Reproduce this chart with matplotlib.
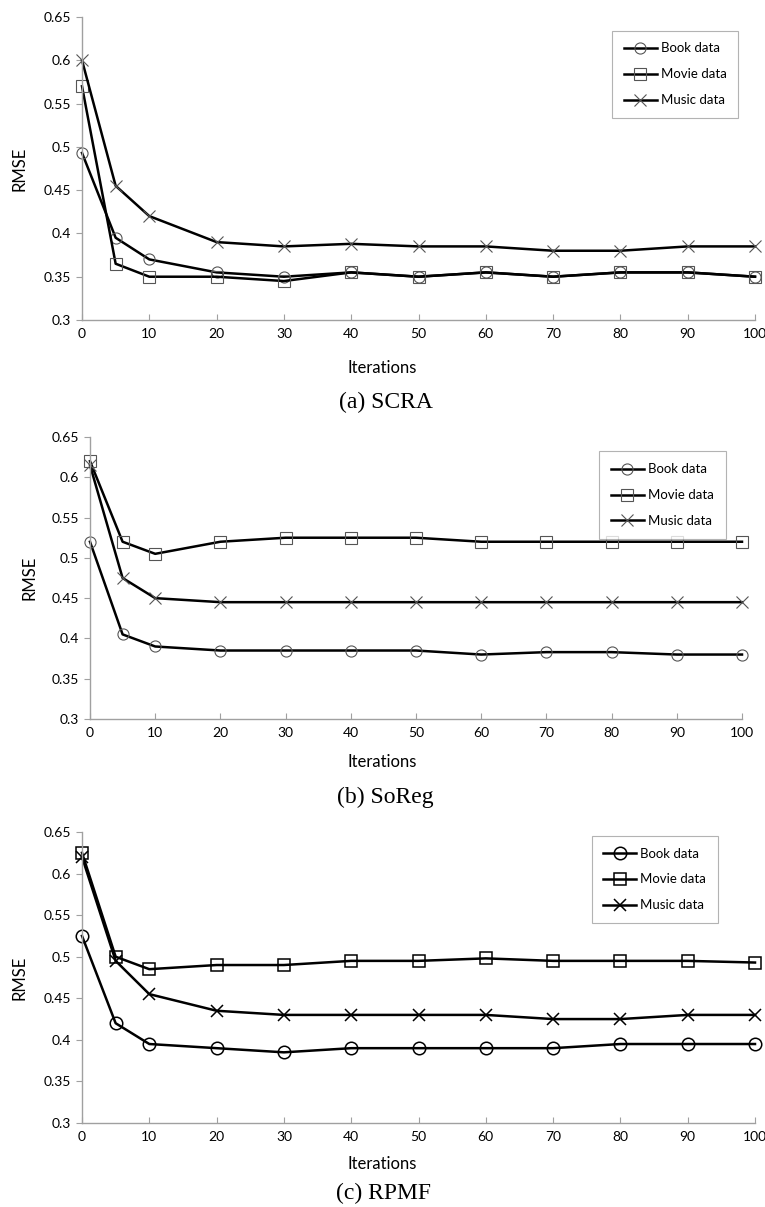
import numpy as np
import matplotlib
matplotlib.use('Agg')
import matplotlib.pyplot as plt

plt.rcParams['font.family'] = ['Lato', 'DejaVu Sans']

iters = [0, 5, 10, 20, 30, 40, 50, 60, 70, 80, 90, 100]
xticks = [0, 10, 20, 30, 40, 50, 60, 70, 80, 90, 100]
yticks = [0.3, 0.35, 0.4, 0.45, 0.5, 0.55, 0.6, 0.65]
ytick_labels = ['0.3', '0.35', '0.4', '0.45', '0.5', '0.55', '0.6', '0.65']
series_names = ['Book data', 'Movie data', 'Music data']

# (a) SCRA
scra_book = [0.493, 0.395, 0.370, 0.355, 0.350, 0.355, 0.350, 0.355, 0.350, 0.355, 0.355, 0.350]
scra_movie = [0.570, 0.365, 0.350, 0.350, 0.345, 0.355, 0.350, 0.355, 0.350, 0.355, 0.355, 0.350]
scra_music = [0.600, 0.455, 0.420, 0.390, 0.385, 0.388, 0.385, 0.385, 0.380, 0.380, 0.385, 0.385]

# (b) SoReg
soreg_book = [0.520, 0.405, 0.390, 0.385, 0.385, 0.385, 0.385, 0.380, 0.383, 0.383, 0.380, 0.380]
soreg_movie = [0.620, 0.520, 0.505, 0.520, 0.525, 0.525, 0.525, 0.520, 0.520, 0.520, 0.520, 0.520]
soreg_music = [0.615, 0.475, 0.450, 0.445, 0.445, 0.445, 0.445, 0.445, 0.445, 0.445, 0.445, 0.445]

# (c) RPMF
rpmf_book = [0.525, 0.420, 0.395, 0.390, 0.385, 0.390, 0.390, 0.390, 0.390, 0.395, 0.395, 0.395]
rpmf_movie = [0.625, 0.500, 0.485, 0.490, 0.490, 0.495, 0.495, 0.498, 0.495, 0.495, 0.495, 0.493]
rpmf_music = [0.620, 0.495, 0.455, 0.435, 0.430, 0.430, 0.430, 0.430, 0.425, 0.425, 0.430, 0.430]

W, H = 765, 1207
fig = plt.figure(figsize=(W / 100, H / 100), dpi=100)


def px_axes(left, right, top, bottom):
    return fig.add_axes([left / W, 1 - bottom / H, (right - left) / W, (bottom - top) / H])


def panel(ax, data, caption, mec, mew, ms, leg_anchor, xlab_y, ylab_x, cap_xy):
    markers = ['o', 's', 'x']
    for vals, m, name in zip(data, markers, series_names):
        ax.plot(iters, vals, color='black', lw=1.8, marker=m, ms=ms,
                mfc='none', mec=mec, mew=mew, label=name, clip_on=False)
    ax.set_xlim(0, 100)
    ax.set_ylim(0.3, 0.65)
    ax.set_xticks(xticks)
    ax.set_yticks(yticks)
    ax.set_yticklabels(ytick_labels)
    for s in ['top', 'right']:
        ax.spines[s].set_visible(False)
    for s in ['left', 'bottom']:
        ax.spines[s].set_color('#a0a0a0')
        ax.spines[s].set_linewidth(1.0)
    ax.tick_params(axis='x', direction='in', length=4, color='#a0a0a0', labelsize=10, pad=6)
    ax.tick_params(axis='y', direction='out', length=4, color='#a0a0a0', labelsize=10, pad=4)
    ax.set_xlabel('Iterations', fontsize=12)
    ax.xaxis.set_label_coords(0.5, 1 - xlab_y / H, transform=fig.transFigure)
    ax.xaxis.label.set_va('center')
    ax.set_ylabel('RMSE', fontsize=12)
    ax.yaxis.set_label_coords(ylab_x / W, 0.5, transform=ax.transAxes)
    ax.yaxis.set_label_coords(ylab_x / W, ax.get_position().y0 + ax.get_position().height / 2,
                              transform=fig.transFigure)
    ax.yaxis.label.set_va('center')
    leg = ax.legend(loc='upper right', bbox_to_anchor=leg_anchor, fontsize=9.5,
                    fancybox=False, edgecolor='#a0a0a0', handlelength=2.5,
                    labelspacing=1.05, borderpad=0.9, handletextpad=0.3)
    leg.get_frame().set_linewidth(0.8)
    fig.text(cap_xy[0] / W, 1 - cap_xy[1] / H, caption, ha='center', va='center',
             fontsize=17, family='Liberation Serif')


ax1 = px_axes(82, 755, 17, 320)
panel(ax1, [scra_book, scra_movie, scra_music], '(a) SCRA', '#555555', 0.8, 8,
      (0.985, 0.977), 368, 19, (386, 402))

ax2 = px_axes(90, 742, 437, 719)
panel(ax2, [soreg_book, soreg_movie, soreg_music], '(b) SoReg', '#555555', 0.8, 8,
      (0.985, 0.972), 762, 30, (385, 797))

ax3 = px_axes(82, 755, 832, 1123)
panel(ax3, [rpmf_book, rpmf_movie, rpmf_music], '(c) RPMF', 'black', 1.1, 9,
      (0.955, 1.01), 1164, 19, (383, 1193))

fig.savefig('out.png', dpi=100)
